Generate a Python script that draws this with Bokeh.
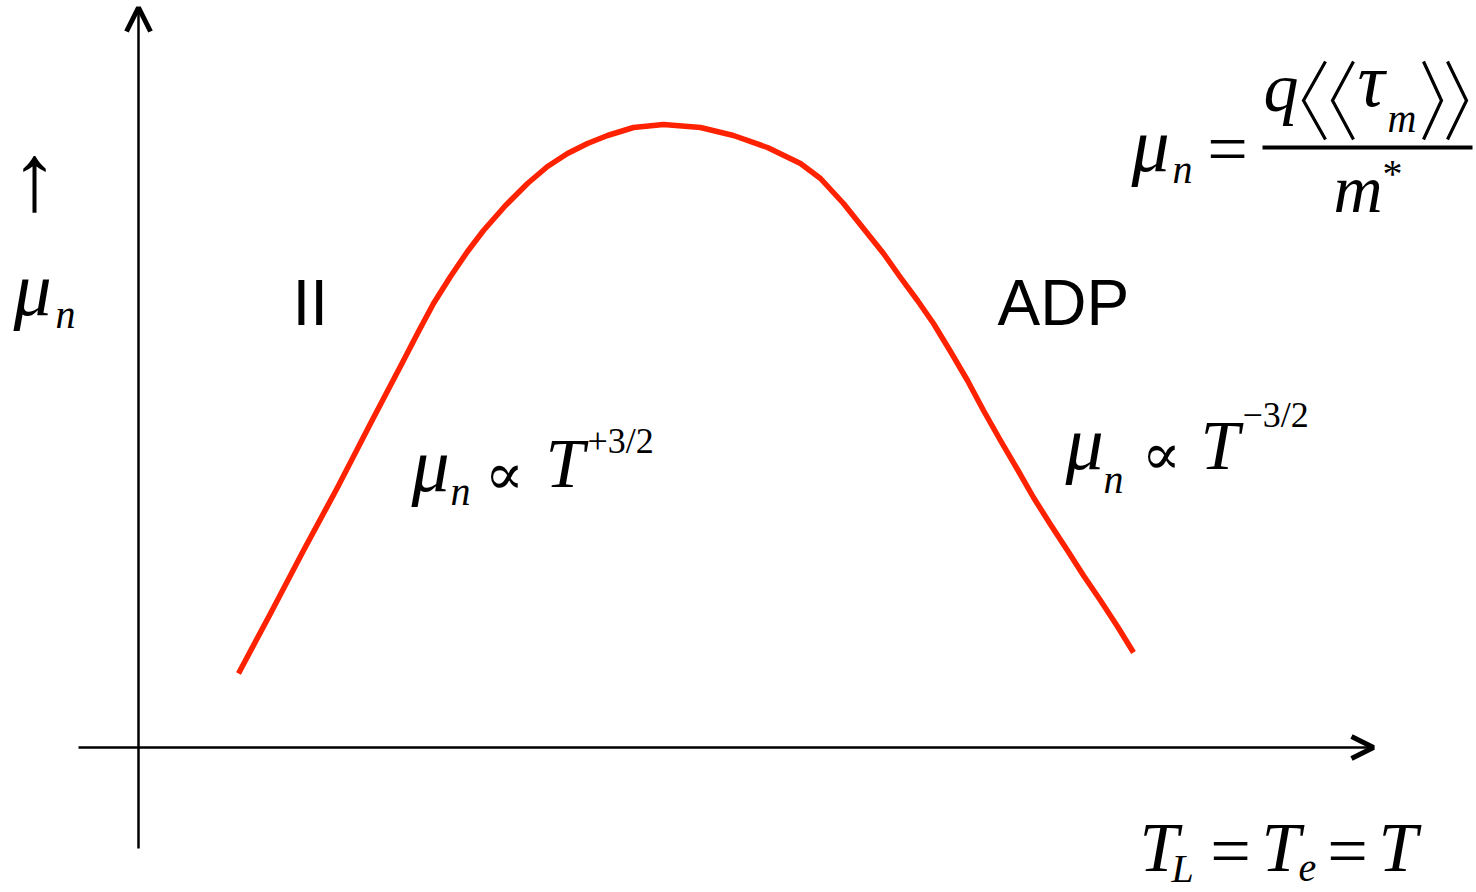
from bokeh.plotting import figure
from bokeh.models import Range1d, Arrow, OpenHead
from bokeh.core.properties import value
from bokeh.embed import file_html
from bokeh.resources import INLINE

# Schematic mobility versus temperature (arbitrary units, origin at the axes corner)
temperature = [100, 132, 165, 199, 232, 265, 280, 295, 312, 329,
               345, 367, 389, 409, 429, 449, 469, 495, 525, 562,
               595, 629, 662, 682, 705, 729, 745, 762, 779, 795,
               812, 829, 845, 862, 879, 895, 912, 929, 945, 962,
               979, 995]
mobility = [74, 134, 197, 260, 324, 387, 416, 444, 471, 496,
            517, 542, 564, 581, 594, 604, 612, 620, 623, 620,
            612, 600, 584, 569, 544, 514, 494, 470, 447, 424,
            396, 367, 337, 307, 278, 250, 223, 197, 172, 147,
            121, 95]

W, H = 1476, 892
OX, OY = 138, 747  # screen position of the axes corner


def sx(px):
    return px - OX


def sy(py):
    return OY - py


p = figure(width=W, height=H, output_backend="svg", toolbar_location=None,
           x_range=Range1d(sx(0), sx(W)), y_range=Range1d(sy(H), sy(0)),
           min_border=0)
p.axis.visible = False
p.grid.visible = False
p.outline_line_color = None
p.background_fill_color = "white"
p.border_fill_color = "white"

# axes with open arrow heads
p.add_layout(Arrow(x_start=0, y_start=sy(848), x_end=0, y_end=sy(7),
                   line_width=2.5, line_color="black",
                   end=OpenHead(size=24, line_width=5, line_color="black")))
p.add_layout(Arrow(x_start=sx(78), y_start=0, x_end=sx(1373), y_end=0,
                   line_width=2.5, line_color="black",
                   end=OpenHead(size=22, line_width=5, line_color="black")))

# mobility curve
p.line(temperature, mobility, line_color="#ff2200", line_width=5.5,
       line_join="round", line_cap="butt")

SERIF = "Liberation Serif"
SANS = "Liberation Sans"
MATH = "DejaVu Serif"


def put(px, py, txt, font=SERIF, size=66, style="italic", align="left",
        baseline="alphabetic"):
    # py is the baseline row for alphabetic text, the centre row otherwise
    if baseline == "alphabetic":
        py = py - 0.36 * size
    p.text(x=[sx(px)], y=[sy(py)], text=[txt], text_font=value(font),
           text_font_size=f"{size}px", text_font_style=style, text_align=align,
           text_baseline=baseline, text_color="black")


def angle(tip_x, open_x, top, bottom):
    # a tall angle-bracket delimiter drawn as a thin chevron
    mid = (top + bottom) / 2
    p.line([sx(open_x), sx(tip_x), sx(open_x)], [sy(top), sy(mid), sy(bottom)],
           line_color="black", line_width=3.2, line_join="miter")


# region labels
put(292, 326, "II", SANS, 64, "normal")
put(997, 326, "ADP", SANS, 64, "normal")

# vertical axis label
put(34, 177, "↑", SERIF, 96, "normal", "center", "middle")
put(13, 316, "μ", SERIF, 76)
put(55, 328, "n", SERIF, 40)

# mu_n = q <<tau_m>> / m*
put(1131, 172, "μ", SERIF, 76)
put(1172, 183, "n", SERIF, 40)
put(1227, 148, "=", SERIF, 72, "normal", "center", "middle")
p.segment(x0=[sx(1262)], y0=[sy(147)], x1=[sx(1472)], y1=[sy(147)],
          line_color="black", line_width=4)
put(1263, 112, "q", SERIF, 70)
angle(1303, 1325, 61, 139)
angle(1332, 1353, 61, 139)
put(1357, 107, "τ", SERIF, 76)
put(1387, 132, "m", SERIF, 40)
angle(1441, 1423, 61, 139)
angle(1466, 1447, 61, 139)
put(1333, 213, "m", SERIF, 68)
put(1382, 187, "*", SERIF, 40, "normal")

# low temperature branch
put(411, 492, "μ", SERIF, 76)
put(450, 505, "n", SERIF, 40)
put(504, 473, "∝", MATH, 58, "normal", "center", "middle")
put(545, 488, "T", SERIF, 70)
put(587, 453, "+3/2", SERIF, 36, "normal")

# high temperature branch
put(1065, 470, "μ", SERIF, 76)
put(1103, 493, "n", SERIF, 40)
put(1161, 453, "∝", MATH, 58, "normal", "center", "middle")
put(1200, 470, "T", SERIF, 70)
put(1242, 427, "−3/2", SERIF, 36, "normal")

# horizontal axis label
put(1139, 872, "T", SERIF, 70)
put(1171, 882, "L", SERIF, 40)
put(1230, 876, "=", SERIF, 72, "normal", "center")
put(1261, 872, "T", SERIF, 70)
put(1298, 882, "e", SERIF, 40)
put(1347, 876, "=", SERIF, 72, "normal", "center")
put(1378, 872, "T", SERIF, 70)

open("out.html", "w").write(file_html(p, INLINE))
